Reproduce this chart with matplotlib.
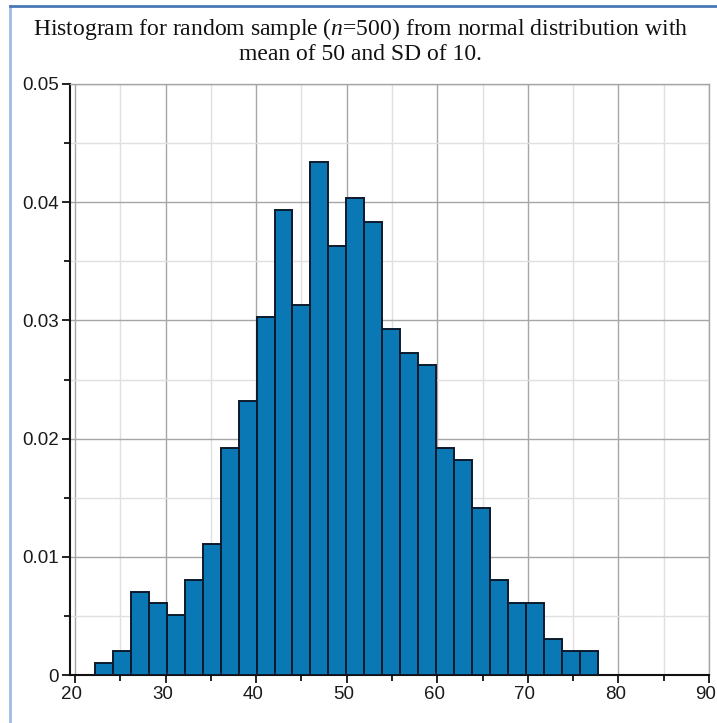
import numpy as np
import matplotlib
matplotlib.use("Agg")
import matplotlib.pyplot as plt
import matplotlib.transforms as mtransforms
from matplotlib.ticker import MultipleLocator, FuncFormatter
from matplotlib.lines import Line2D

# sample summary
n_sample = 500
bin_start = 22.21
bin_width = 1.982
counts = [1, 2, 7, 6, 5, 8, 11, 19, 23, 30, 39, 31, 43, 36, 40, 38,
          29, 27, 26, 19, 18, 14, 8, 6, 6, 3, 2, 2]

title_line1 = r"Histogram for random sample ($\it{n}$=500) from normal distribution with"
title_line2 = "mean of 50 and SD of 10."

edges = bin_start + bin_width * np.arange(len(counts) + 1)
density = np.array(counts) / (n_sample * bin_width)

plt.rcParams['mathtext.fontset'] = 'custom'
plt.rcParams['mathtext.it'] = 'Liberation Serif:italic'
plt.rcParams['mathtext.rm'] = 'Liberation Serif'

W, H = 717, 723
fig = plt.figure(figsize=(W / 100, H / 100), dpi=100)
ax = fig.add_axes([70 / W, (H - 675) / H, (709 - 70) / W, (675 - 84) / H])

ax.bar(edges[:-1], density, width=bin_width, align='edge',
       color='#0a78b4', edgecolor='#0c1a2c', linewidth=1.4, zorder=3)

ax.set_xlim(19.45, 90)
ax.set_ylim(0, 0.05)

ax.xaxis.set_major_locator(MultipleLocator(10))
ax.xaxis.set_minor_locator(MultipleLocator(5))
ax.yaxis.set_major_locator(MultipleLocator(0.01))
ax.yaxis.set_minor_locator(MultipleLocator(0.005))
ax.yaxis.set_major_formatter(FuncFormatter(lambda v, p: "0" if v == 0 else f"{v:.2f}"))

ax.grid(which='major', color='#a6a6a6', linewidth=1.0, zorder=0)
ax.grid(which='minor', color='#e0e0e0', linewidth=1.0, zorder=0)
ax.set_axisbelow(True)

for s in ['left', 'bottom']:
    ax.spines[s].set_color('#111111')
    ax.spines[s].set_linewidth(1.5)
for s in ['top', 'right']:
    ax.spines[s].set_color('#a6a6a6')
    ax.spines[s].set_linewidth(1.0)

ax.tick_params(which='major', length=6, width=1.3, color='#111111',
               labelsize=13.5, pad=2)
ax.tick_params(which='minor', length=4, width=1.3, color='#111111')

# x labels sit a little left of their ticks, as in the original
shift = mtransforms.ScaledTranslation(-3 / 100, 0, fig.dpi_scale_trans)
for lab in ax.get_xticklabels():
    lab.set_transform(lab.get_transform() + shift)
for lab in ax.get_xticklabels() + ax.get_yticklabels():
    lab.set_fontfamily('Liberation Sans')
    lab.set_color('#1a1a1a')

fig.text(0.503, 1 - 35 / H, title_line1, ha='center', va='baseline',
         fontsize=17, family='Liberation Serif', color='#111111')
fig.text(0.503, 1 - 60 / H, title_line2, ha='center', va='baseline',
         fontsize=17, family='Liberation Serif', color='#111111')

# screenshot frame on the left and top
fig.add_artist(Line2D([10 / W, 10 / W], [0, 1 - 6 / H], transform=fig.transFigure,
                      color='#9fbde0', linewidth=2))
fig.add_artist(Line2D([10 / W, 1], [1 - 6 / H, 1 - 6 / H], transform=fig.transFigure,
                      color='#4a78b8', linewidth=2))

fig.savefig("out.png", dpi=100)
